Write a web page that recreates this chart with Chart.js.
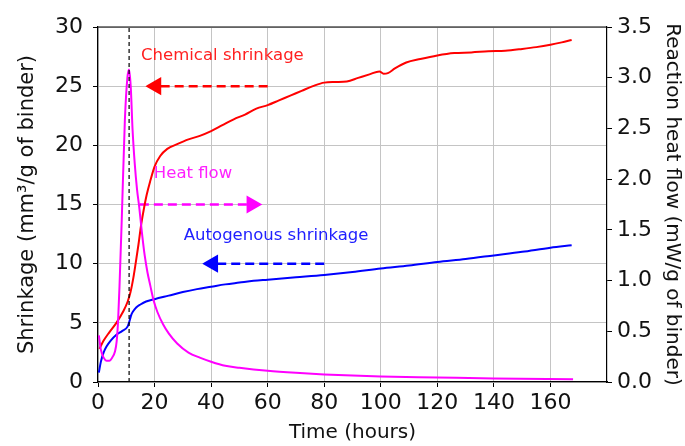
<!DOCTYPE html>
<html>
<head>
<meta charset="utf-8">
<script src="https://cdn.jsdelivr.net/npm/chart.js@4/dist/chart.umd.min.js"></script>
<style>
  body { margin: 0; background: #fff; }
  canvas { display: block; }
</style>
</head>
<body>
<canvas id="shrinkChart" width="685" height="446"></canvas>
<script>
// chemical shrinkage (mm3/g), left axis
const chemTime = [0.5, 2, 4, 6.5, 9, 10.5, 11.5, 12.5, 13.3, 14.3, 15.2, 16.2, 17.2, 18.5, 20, 22, 24.5, 28, 32, 36, 40, 44, 48, 52, 56, 60, 64, 68, 72, 76, 80, 84, 88, 92, 96, 99.5, 101, 102.5, 105, 109, 114, 120, 126, 132, 138, 144, 150, 155, 160, 164, 167.5];
const chemValues = [2.8, 3.5, 4.2, 5.0, 6.0, 6.8, 7.6, 8.8, 10, 11.6, 13.2, 14.6, 15.8, 17, 18.2, 19.1, 19.7, 20.1, 20.5, 20.8, 21.2, 21.7, 22.2, 22.6, 23.1, 23.4, 23.8, 24.2, 24.6, 25.0, 25.3, 25.35, 25.4, 25.7, 26.0, 26.25, 26.05, 26.1, 26.5, 27.0, 27.3, 27.6, 27.8, 27.85, 27.95, 28.0, 28.15, 28.3, 28.5, 28.7, 28.9];

// autogenous shrinkage (mm3/g), left axis
const autoTime = [0.3, 1, 2, 3, 4.5, 6.5, 8.5, 10.5, 11.2, 11.8, 12.5, 13.5, 15, 17, 20, 25, 30, 35, 40, 45, 50, 55, 60, 70, 80, 90, 100, 110, 120, 130, 140, 150, 160, 167.5];
const autoValues = [0.8, 1.7, 2.5, 3.0, 3.5, 4.0, 4.3, 4.7, 5.2, 5.7, 6.0, 6.3, 6.55, 6.8, 7.0, 7.3, 7.6, 7.85, 8.05, 8.25, 8.4, 8.55, 8.65, 8.85, 9.05, 9.3, 9.6, 9.85, 10.15, 10.4, 10.7, 11.0, 11.35, 11.55];

// heat flow (mW/g), right axis
const heatTime = [0.3, 1, 2, 3, 4, 5, 6, 6.6, 7.1, 7.6, 8.4, 9.5, 10.4, 11, 11.6, 12.2, 13, 13.8, 14.6, 15.5, 16.5, 17.5, 18.5, 19.7, 21, 23, 25, 28, 32, 36, 40, 45, 50, 60, 70, 80, 100, 120, 140, 168];
const heatValues = [0.46, 0.32, 0.24, 0.21, 0.21, 0.24, 0.3, 0.4, 0.6, 0.94, 1.6, 2.58, 3.0, 3.08, 2.9, 2.5, 2.15, 1.9, 1.72, 1.48, 1.25, 1.08, 0.95, 0.8, 0.69, 0.57, 0.48, 0.38, 0.29, 0.24, 0.2, 0.16, 0.14, 0.11, 0.09, 0.075, 0.055, 0.045, 0.035, 0.027];

const xTicks = [0, 20, 40, 60, 80, 100, 120, 140, 160];
const yTicks = [0, 5, 10, 15, 20, 25, 30];
const y2Ticks = [0, 0.5, 1.0, 1.5, 2.0, 2.5, 3.0, 3.5];

const peakTime = 11;

// arrows: [from, to] in hours, at a shrinkage level
const arrowChem = [60, 20.5];
const arrowHeat = [14.8, 54.4];
const arrowAuto = [80, 40.6];
const arrowLevels = [25, 15, 10];

const labelTexts = ['Chemical shrinkage', 'Heat flow', 'Autogenous shrinkage'];
const labelTime = [44, 33.6, 63];
const labelLevel = [27.6, 17.6, 12.4];
const labelColors = ['#ff2020', '#ff20ff', '#2020ff'];

const pts = (xs, ys) => xs.map((x, i) => ({ x: x, y: ys[i] }));

function arrowSet(range, level, color, rot) {
    return {
        data: [{ x: range[0], y: level }, { x: range[1], y: level }],
        borderColor: color,
        backgroundColor: color,
        borderWidth: 2.5,
        borderDash: [9, 5],
        pointStyle: 'triangle',
        pointRadius: [0, 8],
        pointRotation: rot,
        yAxisID: 'y'
    };
}

const textPlugin = {
    id: 'textPlugin',
    afterDraw(chart) {
        const ctx = chart.ctx;
        const xs = chart.scales.x, ys = chart.scales.y;
        const a = chart.chartArea;
        ctx.save();
        // top border of the box
        ctx.strokeStyle = '#000';
        ctx.lineWidth = 1.2;
        ctx.beginPath();
        ctx.moveTo(a.left, a.top);
        ctx.lineTo(a.right, a.top);
        ctx.stroke();
        ctx.font = '16.5px "DejaVu Sans"';
        ctx.textAlign = 'center';
        ctx.textBaseline = 'middle';
        labelTexts.forEach((t, i) => {
            ctx.fillStyle = labelColors[i];
            ctx.fillText(t, xs.getPixelForValue(labelTime[i]), ys.getPixelForValue(labelLevel[i]));
        });
        ctx.restore();
    }
};

const ctx = document.getElementById('shrinkChart').getContext('2d');
const chart = new Chart(ctx, {
    type: 'line',
    data: {
        datasets: [
            {
                data: [{ x: peakTime, y: 0 }, { x: peakTime, y: 30 }],
                borderColor: '#000',
                borderWidth: 1.2,
                borderDash: [4, 3],
                pointRadius: 0,
                yAxisID: 'y'
            },
            {
                label: 'Heat flow',
                data: pts(heatTime, heatValues),
                borderColor: '#ff00ff',
                borderWidth: 2,
                pointRadius: 0,
                cubicInterpolationMode: 'monotone',
                yAxisID: 'y2'
            },
            {
                label: 'Chemical shrinkage',
                data: pts(chemTime, chemValues),
                borderColor: '#ff0000',
                borderWidth: 2,
                pointRadius: 0,
                cubicInterpolationMode: 'monotone',
                yAxisID: 'y'
            },
            {
                label: 'Autogenous shrinkage',
                data: pts(autoTime, autoValues),
                borderColor: '#0000ff',
                borderWidth: 2,
                pointRadius: 0,
                cubicInterpolationMode: 'monotone',
                yAxisID: 'y'
            },
            arrowSet(arrowChem, arrowLevels[0], '#ff0000', -90),
            arrowSet(arrowHeat, arrowLevels[1], '#ff00ff', 90),
            arrowSet(arrowAuto, arrowLevels[2], '#0000ff', -90)
        ]
    },
    options: {
        responsive: false,
        animation: false,
        layout: { padding: { top: 27, left: 0, right: 0, bottom: 0 } },
        plugins: {
            legend: { display: false },
            tooltip: { enabled: false }
        },
        scales: {
            x: {
                type: 'linear',
                min: 0,
                max: 180,
                afterBuildTicks: (s) => { s.ticks = xTicks.map(v => ({ value: v })); },
                ticks: {
                    color: '#111',
                    padding: 3,
                    maxRotation: 0,
                    font: { family: 'DejaVu Sans', size: 22 }
                },
                grid: { color: '#c4c4c4', tickColor: '#000', tickLength: 5 },
                border: { color: '#000', width: 1.2 },
                title: {
                    display: true,
                    text: 'Time (hours)',
                    color: '#111',
                    font: { family: 'DejaVu Sans', size: 20 },
                    padding: { top: 0, bottom: 1 }
                },
                afterFit: (s) => { s.height = 64; }
            },
            y: {
                position: 'left',
                min: 0,
                max: 30,
                afterBuildTicks: (s) => { s.ticks = yTicks.map(v => ({ value: v })); },
                ticks: {
                    color: '#111',
                    padding: 10,
                    font: { family: 'DejaVu Sans', size: 22 }
                },
                grid: { color: '#c4c4c4', tickColor: '#000', tickLength: 5 },
                border: { color: '#000', width: 1.2 },
                title: {
                    display: true,
                    text: 'Shrinkage (mm³/g of binder)',
                    color: '#111',
                    font: { family: 'DejaVu Sans', size: 21 },
                    padding: { top: 15, bottom: 0 }
                },
                afterFit: (s) => { s.width = 98; }
            },
            y2: {
                position: 'right',
                min: 0,
                max: 3.5,
                afterBuildTicks: (s) => { s.ticks = y2Ticks.map(v => ({ value: v })); },
                ticks: {
                    color: '#111',
                    padding: 5,
                    font: { family: 'DejaVu Sans', size: 22 },
                    callback: (v) => v.toFixed(1)
                },
                grid: { drawOnChartArea: false, tickColor: '#000', tickLength: 5 },
                border: { color: '#000', width: 1.2 },
                title: {
                    display: true,
                    text: 'Reaction heat flow (mW/g of binder)',
                    color: '#111',
                    font: { family: 'DejaVu Sans', size: 20 },
                    padding: { top: 1, bottom: 0 }
                },
                afterFit: (s) => { s.width = 78; }
            }
        }
    },
    plugins: [textPlugin]
});
</script>
</body>
</html>
